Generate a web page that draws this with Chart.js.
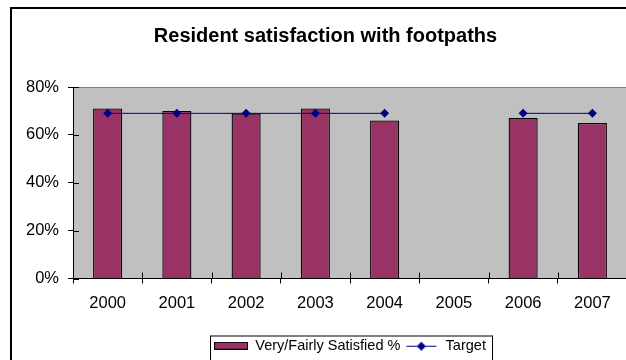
<!DOCTYPE html>
<html>
<head>
<meta charset="utf-8">
<script src="https://cdn.jsdelivr.net/npm/chart.js@4"></script>
<style>
  html, body { margin: 0; padding: 0; background: #fff; overflow: hidden; }
  #wrap { width: 626px; height: 360px; overflow: hidden; }
</style>
</head>
<body>
<div id="wrap">
  <canvas id="footpathChart" width="651" height="363"></canvas>
</div>
<script>
const years = ["2000", "2001", "2002", "2003", "2004", "2005", "2006", "2007"];
const satisfied = [71, 70, 69, 71, 66, null, 67, 65];
const target = [69, 69, 69, 69, 69, null, 69, 69];
const yMax = 80;
const yStep = 20;

const FONT = "'Liberation Sans', Arial, sans-serif";
const MAROON = "#993366";
const NAVY = "#000080";

// legend icons (Excel style: flat bar swatch, line with diamond)
function barIcon() {
  const c = document.createElement("canvas");
  c.width = 34; c.height = 8;
  const g = c.getContext("2d");
  g.fillStyle = MAROON;
  g.fillRect(0.5, 0.5, 33, 7);
  g.strokeStyle = "#000";
  g.lineWidth = 1;
  g.strokeRect(0.5, 0.5, 33, 7);
  return c;
}
function lineIcon() {
  const c = document.createElement("canvas");
  c.width = 34; c.height = 10;
  const g = c.getContext("2d");
  g.strokeStyle = NAVY;
  g.lineWidth = 1;
  g.beginPath();
  g.moveTo(2, 5.5); g.lineTo(32, 5.5);
  g.stroke();
  g.fillStyle = NAVY;
  g.beginPath();
  g.moveTo(17, 1); g.lineTo(21.5, 5.5); g.lineTo(17, 10); g.lineTo(12.5, 5.5);
  g.closePath();
  g.fill();
  return c;
}
const icons = [barIcon(), lineIcon()];

const excelLook = {
  id: "excelLook",
  beforeDraw(chart) {
    const { ctx, chartArea: a } = chart;
    ctx.save();
    ctx.fillStyle = "#fff";
    ctx.fillRect(0, 0, chart.width, chart.height);
    // outer chart frame
    ctx.strokeStyle = "#000";
    ctx.lineWidth = 2;
    ctx.strokeRect(11, 8, 700, 500);
    // plot area
    ctx.fillStyle = "#C0C0C0";
    ctx.fillRect(a.left, a.top, a.right - a.left, a.bottom - a.top);
    ctx.strokeStyle = "#808080";
    ctx.lineWidth = 1;
    ctx.beginPath();
    ctx.moveTo(a.left, a.top + 0.5);
    ctx.lineTo(a.right, a.top + 0.5);
    ctx.stroke();
    ctx.restore();
  },
  afterDatasetsDraw(chart) {
    const { ctx, chartArea: a, scales } = chart;
    ctx.save();
    ctx.strokeStyle = "#000";
    ctx.lineWidth = 1;
    ctx.beginPath();
    // inner halves of the crossing tick marks
    scales.y.ticks.forEach((t) => {
      const py = Math.round(scales.y.getPixelForValue(t.value)) + 0.5;
      ctx.moveTo(a.left, py);
      ctx.lineTo(a.left + 6, py);
    });
    const step = scales.x.getPixelForValue(1) - scales.x.getPixelForValue(0);
    for (let i = 0; i <= years.length; i++) {
      const px = Math.round(scales.x.getPixelForValue(i) - step / 2) + 0.5;
      ctx.moveTo(px, a.bottom);
      ctx.lineTo(px, a.bottom - 6);
    }
    ctx.stroke();
    ctx.restore();
  },
  afterDraw(chart) {
    const lg = chart.legend;
    const boxes = lg.legendHitBoxes;
    if (!boxes || !boxes.length) return;
    const first = boxes[0];
    const last = boxes[boxes.length - 1];
    const ctx = chart.ctx;
    ctx.save();
    ctx.strokeStyle = "#000";
    ctx.lineWidth = 1;
    ctx.strokeRect(Math.round(first.left - 4) + 0.5, lg.top + 1.5,
      Math.round(last.left + last.width - first.left + 10), 60);
    ctx.restore();
  },
};

const ctx = document.getElementById("footpathChart").getContext("2d");

new Chart(ctx, {
  data: {
    labels: years,
    datasets: [
      {
        type: "bar",
        label: "Very/Fairly Satisfied %",
        data: satisfied,
        backgroundColor: MAROON,
        borderColor: "#000",
        borderWidth: 1.3,
        categoryPercentage: 1,
        barPercentage: 0.42,
        order: 2,
      },
      {
        type: "line",
        label: "Target",
        data: target,
        borderColor: NAVY,
        backgroundColor: NAVY,
        borderWidth: 1,
        pointStyle: "rectRot",
        pointRadius: 4.5,
        pointBorderWidth: 0,
        tension: 0,
        spanGaps: false,
        order: 1,
      },
    ],
  },
  options: {
    responsive: false,
    animation: false,
    devicePixelRatio: 1,
    layout: { padding: 0 },
    scales: {
      x: {
        grid: {
          offset: true,
          drawOnChartArea: false,
          drawTicks: true,
          tickLength: 5,
          color: "#000",
        },
        border: { display: true, color: "#000", width: 1 },
        ticks: {
          color: "#000",
          padding: 10,
          maxRotation: 0,
          font: { family: FONT, size: 16.5 },
        },
        afterFit: (scale) => { scale.height = 56; },
      },
      y: {
        min: 0,
        max: yMax,
        grid: {
          drawOnChartArea: false,
          drawTicks: true,
          tickLength: 5,
          color: "#000",
        },
        border: { display: true, color: "#000", width: 1 },
        ticks: {
          stepSize: yStep,
          color: "#000",
          padding: 9,
          font: { family: FONT, size: 16.5 },
          callback: (v) => v + "%",
        },
        afterFit: (scale) => { scale.width = 73; },
      },
      // empty right-hand strip so the plot runs past the visible edge like the original
      pad: {
        position: "right",
        display: true,
        grid: { display: false },
        border: { display: false },
        ticks: { display: false },
        afterFit: (scale) => { scale.width = 24; },
      },
    },
    plugins: {
      title: {
        display: true,
        text: "Resident satisfaction with footpaths",
        color: "#000",
        font: { family: FONT, size: 20, weight: "bold", lineHeight: 1.2 },
        padding: { top: 24, bottom: 39 },
      },
      legend: {
        display: true,
        position: "bottom",
        fullSize: false,
        labels: {
          color: "#000",
          font: { family: FONT, size: 14.5 },
          usePointStyle: true,
          pointStyleWidth: 34,
          boxHeight: 7,
          padding: 4,
          sort: (a, b) => a.datasetIndex - b.datasetIndex,
          generateLabels(chart) {
            const items = Chart.defaults.plugins.legend.labels.generateLabels(chart);
            items.forEach((it) => { it.pointStyle = icons[it.datasetIndex]; });
            return items;
          },
        },
      },
      tooltip: { enabled: false },
    },
  },
  plugins: [excelLook],
});
</script>
</body>
</html>
